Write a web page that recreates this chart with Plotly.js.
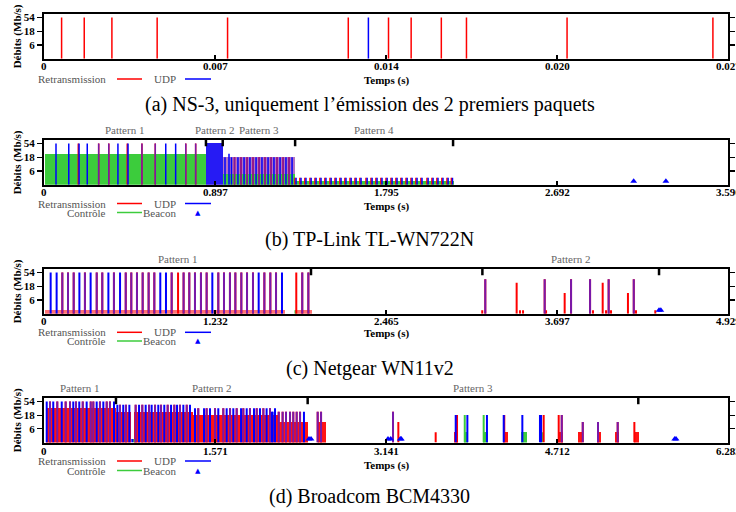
<!DOCTYPE html>
<html><head><meta charset="utf-8">
<script src="https://cdn.plot.ly/plotly-3.0.1.min.js"></script>
<style>html,body{margin:0;padding:0;background:#fff}#chart{width:736px;height:512px}</style>
</head><body><div id="chart"></div>
<script>
// ---------- shared rate scale (Mb/s) ----------
const RATE_LEVELS = [1, 2, 5.5, 6, 9, 11, 12, 18, 24, 36, 48, 54];
const RATE_TICKS = [6, 18, 54];
const RATE_TICK_TEXT = ['6', '18', '54'];

// ---------- (a) NS-3 ----------
const A_XMAX = 0.0272;
const A_XTICKS = [0, 0.0068, 0.0136, 0.0204, 0.0272];
const A_XTICK_TEXT = ['0', '0.007', '0.014', '0.020', '0.027'];
const A_RETX_T = [0.0007, 0.0016, 0.0027, 0.0045, 0.0073, 0.0121, 0.0137, 0.0146, 0.0158, 0.0168, 0.0208, 0.0266];
const A_RETX_R = [54, 54, 54, 54, 54, 54, 54, 54, 54, 54, 54, 54];
const A_UDP_T = [0.0129];
const A_UDP_R = [54];

// ---------- (b) TP-Link TL-WN722N ----------
const B_XMAX = 3.59;
const B_XTICKS = [0, 0.8975, 1.795, 2.6925, 3.59];
const B_XTICK_TEXT = ['0', '0.897', '1.795', '2.692', '3.590'];
const B_PATTERN_START = [0, 0.850, 0.938, 1.318];
const B_PATTERN_END = [0.850, 0.938, 1.318, 2.147];
const B_PATTERN_NAMES = ['Pattern 1', 'Pattern 2', 'Pattern 3', 'Pattern 4'];
const B_UDP_T = [0.063, 0.130, 0.184, 0.227, 0.287, 0.340, 0.388, 0.441, 0.514, 0.584, 0.639, 0.691, 0.744, 0.796,
  0.950, 0.971, 0.984, 1.000, 1.018, 1.034, 1.050, 1.066, 1.081, 1.097, 1.113, 1.129, 1.144, 1.160, 1.176, 1.192, 1.207, 1.223, 1.239, 1.255, 1.270, 1.286, 1.302,
  1.323, 1.349, 1.375, 1.402, 1.428, 1.454, 1.480, 1.507, 1.533, 1.559, 1.585, 1.612, 1.638, 1.664, 1.696, 1.722, 1.748, 1.774, 1.801, 1.827, 1.853, 1.879, 1.906, 1.932, 1.958, 1.984, 2.016, 2.042, 2.068, 2.094, 2.121, 2.144];
const B_UDP_R = [54, 54, 54, 54, 54, 54, 54, 54, 54, 54, 54, 54, 54, 54,
  18, 24, 18, 18, 18, 18, 18, 18, 18, 18, 18, 18, 18, 18, 18, 18, 18, 18, 18, 18, 18, 18, 18,
  2, 2, 2, 2, 2, 2, 2, 2, 2, 2, 2, 2, 2, 2, 2, 2, 2, 2, 2, 2, 2, 2, 2, 2, 2, 2, 2, 2, 2, 2, 2, 2];
const B_RETX_T = [0.180, 0.287, 0.340, 0.437, 0.514, 0.584, 0.744, 0.796,
  1.000, 1.034, 1.066, 1.097, 1.129, 1.160, 1.192, 1.223, 1.255, 1.286,
  1.317, 1.343, 1.369, 1.396, 1.422, 1.448, 1.474, 1.501, 1.527, 1.553, 1.579, 1.606, 1.632, 1.658, 1.690, 1.716, 1.742, 1.768, 1.795, 1.821, 1.847, 1.873, 1.900, 1.926, 1.952, 1.978, 2.010, 2.036, 2.062, 2.088, 2.115, 2.138];
const B_RETX_R = [54, 54, 54, 54, 54, 54, 54, 54,
  18, 18, 18, 18, 18, 18, 18, 18, 18, 18,
  2, 2, 2, 2, 2, 2, 2, 2, 2, 2, 2, 2, 2, 2, 2, 2, 2, 2, 2, 2, 2, 2, 2, 2, 2, 2, 2, 2, 2, 2, 2, 2];
const B_RETX_BURST_START = [0.850, 0.938];
const B_RETX_BURST_END = [0.938, 1.318];
const B_RETX_BURST_R = [54, 18];
const B_UDP_BURST_START = [0.850, 0.938];
const B_UDP_BURST_END = [0.938, 1.318];
const B_UDP_BURST_R = [54, 18];
const B_CTL_BURST_START = [0.005, 0.938, 1.318];
const B_CTL_BURST_END = [0.850, 1.318, 2.150];
const B_CTL_BURST_R = [24, 5.5, 1];
const B_BEACON_T = [3.095, 3.264];

// ---------- (c) Netgear WN11v2 ----------
const C_XMAX = 4.929;
const C_XTICKS = [0, 1.23225, 2.4645, 3.69675, 4.929];
const C_XTICK_TEXT = ['0', '1.232', '2.465', '3.697', '4.929'];
const C_PATTERN_START = [0, 3.159];
const C_PATTERN_END = [1.924, 4.432];
const C_PATTERN_NAMES = ['Pattern 1', 'Pattern 2'];
const C_UDP_T = [0.048, 0.091, 0.132, 0.173, 0.214, 0.255, 0.295, 0.336, 0.380, 0.420, 0.464, 0.504, 0.548, 0.589, 0.629, 0.670, 0.711, 0.754, 0.795, 0.838, 0.879, 0.920, 1.006, 1.047, 1.088, 1.131, 1.172, 1.213, 1.256, 1.297, 1.340, 1.379, 1.422, 1.463, 1.506, 1.547, 1.588, 1.631, 1.672, 1.715, 1.861, 1.905,
  3.180, 3.608, 3.798, 3.935, 4.069, 4.250];
const C_UDP_R = [54, 54, 54, 54, 54, 54, 54, 54, 54, 54, 54, 54, 54, 54, 54, 54, 54, 54, 54, 54, 54, 54, 54, 54, 54, 54, 54, 54, 54, 54, 54, 54, 54, 54, 54, 54, 54, 54, 54, 54, 54, 54,
  36, 36, 36, 36, 36, 36];
const C_RETX_T = [0.132, 0.173, 0.214, 0.295, 0.380, 0.420, 0.504, 0.589, 0.629, 0.670, 0.711, 0.754, 0.795, 0.920, 0.966, 1.006, 1.047, 1.088, 1.131, 1.172, 1.256, 1.297, 1.340, 1.379, 1.422, 1.463, 1.506, 1.588, 1.631, 1.672, 1.818, 1.861, 1.905,
  3.180, 3.406, 3.608, 3.752, 3.798, 3.935, 4.026, 4.069, 4.208, 4.250,
  3.158, 3.430, 3.452, 3.618, 3.956, 4.050, 4.086, 4.266, 4.405];
const C_RETX_R = [54, 54, 54, 54, 54, 54, 54, 54, 54, 54, 54, 54, 54, 54, 54, 54, 54, 54, 54, 54, 54, 54, 54, 54, 54, 54, 54, 54, 54, 54, 54, 54, 54,
  36, 24, 36, 11, 36, 36, 24, 36, 11, 36,
  1, 1, 1, 1, 1, 1, 1, 1, 1];
const C_RETX_BURST_START = [0.005, 1.810];
const C_RETX_BURST_END = [1.737, 1.930];
const C_RETX_BURST_R = [1, 1];
const C_CTL_T = [1.812];
const C_CTL_R = [1];
const C_BEACON_T = [4.432, 4.445];

// ---------- (d) Broadcom BCM4330 ----------
const D_XMAX = 6.2832;
const D_XTICKS = [0, 1.5708, 3.1416, 4.7124, 6.2832];
const D_XTICK_TEXT = ['0', '1.571', '3.141', '4.712', '6.283'];
const D_PATTERN_START = [0, 0.661, 2.422];
const D_PATTERN_END = [0.661, 2.422, 5.459];
const D_PATTERN_NAMES = ['Pattern 1', 'Pattern 2', 'Pattern 3'];
const D_UDP_T = [0.025, 0.055, 0.085, 0.122, 0.163, 0.199, 0.239, 0.269, 0.294, 0.324, 0.356, 0.392, 0.429, 0.453, 0.484, 0.514, 0.545, 0.576, 0.606, 0.643,
  0.674, 0.698, 0.728, 0.753, 0.784, 0.842, 0.873, 0.903, 0.934, 0.965, 0.989, 1.020, 1.050, 1.075, 1.105, 1.136, 1.167, 1.197, 1.222, 1.249, 1.280, 1.311, 1.341,
  0.811,
  1.387, 1.417, 1.470, 1.494, 1.525, 1.571, 1.601, 1.647, 1.678, 1.709, 1.739, 1.770, 1.810, 1.831, 1.862, 1.892, 1.929, 1.954, 1.984, 2.015, 2.045, 2.076, 2.122,
  2.094, 2.100, 2.156, 2.192, 2.223, 2.260, 2.290, 2.321, 2.352, 2.388, 2.514, 2.545,
  3.206, 3.782, 3.889, 4.069, 4.223, 4.394, 4.556, 4.566, 4.756, 4.949, 5.089, 5.270];
const D_UDP_R = [54, 54, 54, 54, 54, 54, 54, 54, 54, 54, 54, 54, 54, 54, 54, 54, 54, 54, 54, 54,
  48, 48, 48, 48, 48, 48, 48, 48, 48, 48, 48, 48, 48, 48, 48, 48, 48, 48, 48, 48, 48, 48, 48,
  1,
  36, 36, 36, 36, 36, 36, 36, 36, 36, 36, 36, 36, 36, 36, 36, 36, 36, 36, 36, 36, 36, 36, 36,
  24, 24, 24, 24, 24, 24, 24, 24, 24, 24, 24, 24,
  24, 18, 18, 18, 18, 18, 18, 18, 18, 11, 11, 11];
const D_RETX_T = [0.055, 0.122, 0.199, 0.239, 0.294, 0.356, 0.429, 0.453, 0.514, 0.576, 0.606,
  0.698, 0.753, 0.842, 0.903, 0.965, 1.020, 1.075, 1.136, 1.197, 1.249, 1.311,
  1.417, 1.494, 1.571, 1.647, 1.709, 1.770, 1.831, 1.892, 1.954, 2.015, 2.076,
  2.156, 2.192, 2.223, 2.260, 2.290, 2.321, 2.352, 2.514, 2.545,
  3.206, 3.255, 3.598, 3.794, 4.228, 4.590, 4.728, 4.756, 4.949, 5.089, 5.270, 5.423];
const D_RETX_R = [54, 54, 54, 54, 54, 54, 54, 54, 54, 54, 54,
  48, 48, 48, 48, 48, 48, 48, 48, 48, 48, 48,
  36, 36, 36, 36, 36, 36, 36, 36, 36, 36, 36,
  24, 24, 24, 24, 24, 24, 24, 24, 24,
  24, 11, 5.5, 18, 18, 18, 18, 18, 11, 11, 11, 11];
const D_RETX_BURST_START = [0.016, 0.661, 0.830, 1.372, 2.145, 2.514, 3.770, 4.212, 4.720, 4.902, 5.078, 5.243, 5.420];
const D_RETX_BURST_END = [0.661, 0.802, 1.372, 2.145, 2.427, 2.588, 3.806, 4.262, 4.770, 4.940, 5.117, 5.280, 5.463];
const D_RETX_BURST_R = [36, 24, 24, 18, 11, 11, 5.5, 5.5, 5.5, 5.5, 5.5, 5.5, 5.5];
const D_CTL_T = [0.826, 3.865, 4.039, 4.575];
const D_CTL_R = [1, 18, 18, 5.5];
const D_CTL_BURST_START = [3.858, 4.033, 4.379];
const D_CTL_BURST_END = [3.895, 4.079, 4.440];
const D_CTL_BURST_R = [5.5, 5.5, 5.5];
const D_BEACON_T = [2.434, 2.453, 3.160, 3.185, 3.273, 3.282, 5.794, 5.806];

// ---------- captions ----------
const CAPTIONS = [
  "(a) NS-3, uniquement l’émission des 2 premiers paquets",
  "(b) TP-Link TL-WN722N",
  "(c) Netgear WN11v2",
  "(d) Broadcom BCM4330"
];

// ---------- styling / layout ----------
const W = 736, H = 512;
const PL = 44, PR = 728;
const BOX = [[14, 58.7], [140, 184.7], [269, 313.7], [398, 442.5]];
const XLABEL_Y = [66, 192.3, 321, 450.5];
const CAPTION_Y = [104, 239, 368, 496];
const XTITLE_Y = [80.5, 206, 333, 465];
const LEG_Y = [[79], [203.5, 212.5], [332.3, 341], [461, 470.5]];
const PAT_Y = [null, 129.5, 258.5, 387.5];
const RED = '#ff0000', BLUE = '#0000ff', GREEN = '#3ccc3c', PURPLE = 'rgb(120,25,170)';
const SERIF = 'Liberation Serif, Times New Roman, serif';
const GREY = '#555555';

function ri(r) { return RATE_LEVELS.indexOf(r) + 1; }
function px2x(p) { return p / W; }
function py2y(p) { return 1 - p / H; }

const panels = [
  {xmax: A_XMAX, xt: A_XTICKS, xtt: A_XTICK_TEXT, lw: 1.5,
   retx: [A_RETX_T, A_RETX_R], udp: [A_UDP_T, A_UDP_R], legendRows: 1},
  {xmax: B_XMAX, xt: B_XTICKS, xtt: B_XTICK_TEXT, lw: 1.5,
   retx: [B_RETX_T, B_RETX_R], udp: [B_UDP_T, B_UDP_R],
   retxBurst: [B_RETX_BURST_START, B_RETX_BURST_END, B_RETX_BURST_R], retxBurstOp: [0.3, 0.35],
   udpBurst: [B_UDP_BURST_START, B_UDP_BURST_END, B_UDP_BURST_R], udpBurstOp: [0.85, 0.3],
   ctlBurst: [B_CTL_BURST_START, B_CTL_BURST_END, B_CTL_BURST_R],
   beacon: B_BEACON_T, pat: [B_PATTERN_START, B_PATTERN_END, B_PATTERN_NAMES], legendRows: 2},
  {xmax: C_XMAX, xt: C_XTICKS, xtt: C_XTICK_TEXT, lw: 2,
   retx: [C_RETX_T, C_RETX_R], udp: [C_UDP_T, C_UDP_R], ctl: [C_CTL_T, C_CTL_R],
   retxBurst: [C_RETX_BURST_START, C_RETX_BURST_END, C_RETX_BURST_R], retxBurstOp: [0.55, 0.55],
   beacon: C_BEACON_T, pat: [C_PATTERN_START, C_PATTERN_END, C_PATTERN_NAMES], legendRows: 2},
  {xmax: D_XMAX, xt: D_XTICKS, xtt: D_XTICK_TEXT, lw: 2,
   retx: [D_RETX_T, D_RETX_R], udp: [D_UDP_T, D_UDP_R], ctl: [D_CTL_T, D_CTL_R],
   retxBurst: [D_RETX_BURST_START, D_RETX_BURST_END, D_RETX_BURST_R], retxBurstOp: D_RETX_BURST_R.map(() => 0.92),
   ctlBurst: [D_CTL_BURST_START, D_CTL_BURST_END, D_CTL_BURST_R],
   beacon: D_BEACON_T, pat: [D_PATTERN_START, D_PATTERN_END, D_PATTERN_NAMES], legendRows: 2}
];

const traces = [];
const layout = {
  width: W, height: H, margin: {l: 0, r: 0, t: 0, b: 0},
  paper_bgcolor: '#fff', plot_bgcolor: '#fff', showlegend: false,
  barmode: 'overlay', bargap: 0,
  font: {family: SERIF, color: '#000'},
  annotations: [], shapes: []
};

panels.forEach((p, i) => {
  const n = i === 0 ? '' : String(i + 1);
  const xa = 'x' + n, ya = 'y' + n;
  const [top, bot] = BOX[i];
  layout['xaxis' + n] = {
    domain: [px2x(PL), px2x(PR)], range: [0, p.xmax], anchor: ya,
    tickmode: 'array', tickvals: p.xt, showticklabels: false,
    ticks: 'inside', ticklen: 4, tickwidth: 1.5, tickcolor: '#000',
    showline: true, linewidth: 2, linecolor: '#000', mirror: true,
    showgrid: false, zeroline: false, fixedrange: true
  };
  layout['yaxis' + n] = {
    domain: [py2y(bot), py2y(top)], range: [0, 13], anchor: xa,
    tickmode: 'array', tickvals: RATE_TICKS.map(ri), ticktext: RATE_TICK_TEXT,
    ticks: 'outside', ticklen: 5, tickwidth: 1.2, tickcolor: '#000',
    showline: true, linewidth: 2, linecolor: '#000', mirror: 'ticks',
    showgrid: false, zeroline: false, fixedrange: true,
    tickfont: {family: SERIF, size: 11, color: '#000', weight: 'bold'}
  };
  // x tick labels (text placed at the tick values)
  p.xt.forEach((v, k) => layout.annotations.push({xref: xa, yref: 'paper', x: v, y: py2y(XLABEL_Y[i]), text: p.xtt[k],
    showarrow: false, xanchor: 'center', yanchor: 'middle', font: {family: SERIF, size: 11, color: '#000', weight: 'bold'}}));

  const base = {xaxis: xa, yaxis: ya, hoverinfo: 'skip', showlegend: false};
  function burst(b, color, op) {
    return Object.assign({type: 'bar', x: b[0].map((s, k) => (s + b[1][k]) / 2),
      width: b[0].map((s, k) => b[1][k] - s), y: b[2].map(ri),
      marker: {color: color, opacity: op, line: {width: 0}}}, base);
  }
  // each packet: a vertical stroke from the axis floor up to its rate level
  function stems(ts, rs, color) {
    const x = [], y = [];
    ts.forEach((t, k) => { x.push(t, t, null); y.push(0, ri(rs[k]), null); });
    return Object.assign({type: 'scatter', mode: 'lines', x: x, y: y, connectgaps: false,
      line: {color: color, width: p.lw}}, base);
  }
  if (p.retxBurst) traces.push(burst(p.retxBurst, RED, p.retxBurstOp));
  if (p.udpBurst) traces.push(burst(p.udpBurst, BLUE, p.udpBurstOp));
  if (p.ctlBurst) traces.push(burst(p.ctlBurst, GREEN, 1));
  if (p.ctl) traces.push(stems(p.ctl[0], p.ctl[1], GREEN));
  traces.push(stems(p.retx[0], p.retx[1], RED));
  const both = p.udp[0].map((t, k) => p.retx[0].some((rt, j) => Math.abs(rt - t) < 1e-9 && p.retx[1][j] === p.udp[1][k]));
  const ub = [[], []], up = [[], []];
  p.udp[0].forEach((t, k) => { const g = both[k] ? up : ub; g[0].push(t); g[1].push(p.udp[1][k]); });
  traces.push(stems(ub[0], ub[1], BLUE));
  traces.push(stems(up[0], up[1], PURPLE));
  if (p.beacon) traces.push(Object.assign({type: 'scatter', mode: 'markers', x: p.beacon, y: p.beacon.map(() => ri(1)),
    marker: {symbol: 'triangle-up', size: 6, color: BLUE, line: {width: 0}}, cliponaxis: false}, base));

  // pattern boundaries & labels
  if (p.pat) {
    const bounds = [];
    p.pat[0].forEach(s => { if (s > 0 && bounds.indexOf(s) < 0) bounds.push(s); });
    p.pat[1].forEach(e => { if (bounds.indexOf(e) < 0) bounds.push(e); });
    bounds.forEach(b => layout.shapes.push({type: 'line', xref: xa, yref: ya + ' domain', x0: b, x1: b, y0: 1, y1: 0.86,
      line: {color: '#000', width: 2.5}}));
    p.pat[0].forEach((s, k) => layout.annotations.push({xref: xa, yref: 'paper', x: (s + p.pat[1][k]) / 2, y: py2y(PAT_Y[i]),
      text: p.pat[2][k], showarrow: false, xanchor: 'center', yanchor: 'middle',
      font: {family: SERIF, size: 11, color: '#666'}}));
  }

  // axis titles
  layout.annotations.push({xref: 'paper', yref: 'paper', x: px2x((PL + PR) / 2), y: py2y(XTITLE_Y[i]), text: 'Temps (s)',
    showarrow: false, xanchor: 'center', yanchor: 'middle', font: {family: SERIF, size: 11, color: '#000', weight: 'bold'}});
  layout.annotations.push({xref: 'paper', yref: 'paper', x: px2x(17), y: py2y((top + bot) / 2), text: 'Débits (Mb/s)', textangle: -90,
    showarrow: false, xanchor: 'center', yanchor: 'middle', font: {family: SERIF, size: 11, color: '#000', weight: 'bold'}});
  // caption
  layout.annotations.push({xref: 'paper', yref: 'paper', x: px2x(370), y: py2y(CAPTION_Y[i]), text: CAPTIONS[i],
    showarrow: false, xanchor: 'center', yanchor: 'middle', font: {family: SERIF, size: 20, color: '#000'}});

  // legend
  const rows = [[['Retransmission', RED, 'line'], ['UDP', BLUE, 'line']], [['Contrôle', GREEN, 'line'], ['Beacon', BLUE, 'tri']]];
  for (let r = 0; r < p.legendRows; r++) {
    const y = LEG_Y[i][r];
    rows[r].forEach((it, c) => {
      const tx = c === 0 ? 108 : 178, lx0 = c === 0 ? 117 : 185, lx1 = c === 0 ? 142 : 211;
      layout.annotations.push({xref: 'paper', yref: 'paper', x: px2x(tx), y: py2y(y), text: it[0], showarrow: false,
        xanchor: 'right', yanchor: 'middle', font: {family: SERIF, size: 11, color: GREY}});
      if (it[2] === 'line') {
        layout.shapes.push({type: 'line', xref: 'paper', yref: 'paper', x0: px2x(lx0), x1: px2x(lx1), y0: py2y(y), y1: py2y(y),
          line: {color: it[1], width: 1.5}});
      } else {
        layout.annotations.push({xref: 'paper', yref: 'paper', x: px2x((lx0 + lx1) / 2), y: py2y(y), text: '▲', showarrow: false,
          xanchor: 'center', yanchor: 'middle', font: {family: 'DejaVu Sans', size: 7, color: it[1]}});
      }
    });
  }
});

Plotly.newPlot('chart', traces, layout, {staticPlot: true, displayModeBar: false});
</script>
</body></html>
